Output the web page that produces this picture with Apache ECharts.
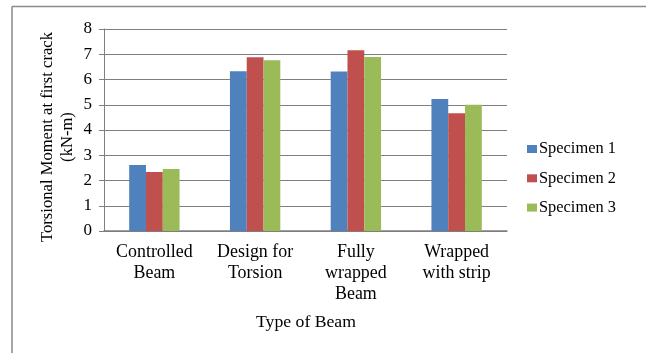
<!DOCTYPE html>
<html><head><meta charset="utf-8">
<script src="https://cdn.jsdelivr.net/npm/echarts@6/dist/echarts.min.js"></script>
<style>html,body{margin:0;padding:0;background:#fff}#c{width:646px;height:353px}</style>
</head><body><div id="c"></div>
<script>
const categories = ['Controlled\nBeam', 'Design for\nTorsion', 'Fully\nwrapped\nBeam', 'Wrapped\nwith strip'];
const specimen1 = [2.61, 6.33, 6.32, 5.23];
const specimen2 = [2.34, 6.88, 7.16, 4.66];
const specimen3 = [2.46, 6.76, 6.89, 5.00];
const seriesNames = ['Specimen 1', 'Specimen 2', 'Specimen 3'];
const colors = ['#4F81BD', '#C0504D', '#9BBB59'];
const FONT = 'Liberation Serif';
const chart = echarts.init(document.getElementById('c'), null, {renderer: 'canvas'});
chart.setOption({
  animation: false,
  color: colors,
  textStyle: {fontFamily: FONT, color: '#000'},
  grid: {left: 104, top: 29, right: 139, bottom: 122, containLabel: false},
  legend: {
    orient: 'vertical', left: 522, top: 134,
    itemWidth: 10, itemHeight: 8, itemGap: 9.3,
    icon: 'rect',
    textStyle: {fontFamily: FONT, fontSize: 16.4, color: '#000', lineHeight: 20, padding: [0, 0, 0, -3]},
    data: seriesNames
  },
  xAxis: {
    type: 'category', data: categories,
    axisLine: {lineStyle: {color: '#7f7f7f', width: 1.5}},
    axisTick: {show: false},
    axisLabel: {fontFamily: FONT, fontSize: 17.9, color: '#000', lineHeight: 21, margin: 11, interval: 0}
  },
  yAxis: {
    type: 'value', min: 0, max: 8, interval: 1,
    axisLine: {show: true, lineStyle: {color: '#7f7f7f', width: 1}},
    axisTick: {show: true, length: 5, lineStyle: {color: '#7f7f7f'}},
    splitLine: {lineStyle: {color: '#7f7f7f', width: 1.2}},
    axisLabel: {fontFamily: FONT, fontSize: 17, color: '#000', margin: 12}
  },
  graphic: [
    {type: 'line', shape: {x1: 12, y1: 6.5, x2: 646, y2: 6.5}, style: {stroke: '#8a8a8a', lineWidth: 1.5}},
    {type: 'line', shape: {x1: 12, y1: 6.5, x2: 12, y2: 353}, style: {stroke: '#8a8a8a', lineWidth: 1.5}},
    {type: 'text', x: 48, y: 137, rotation: Math.PI / 2, style: {text: 'Torsional Moment at first crack', fontFamily: FONT, fontSize: 16.6, fill: '#000', align: 'center', verticalAlign: 'middle'}},
    {type: 'text', x: 68, y: 137, rotation: Math.PI / 2, style: {text: '(kN-m)', fontFamily: FONT, fontSize: 16.6, fill: '#000', align: 'center', verticalAlign: 'middle'}},
    {type: 'text', x: 306, y: 322, style: {text: 'Type of Beam', fontFamily: FONT, fontSize: 17.7, fill: '#000', align: 'center', verticalAlign: 'middle'}}
  ],
  series: [
    {name: seriesNames[0], type: 'bar', data: specimen1, barGap: '0%', barCategoryGap: '50%'},
    {name: seriesNames[1], type: 'bar', data: specimen2, barGap: '0%', barCategoryGap: '50%'},
    {name: seriesNames[2], type: 'bar', data: specimen3, barGap: '0%', barCategoryGap: '50%'}
  ]
});
</script></body></html>
